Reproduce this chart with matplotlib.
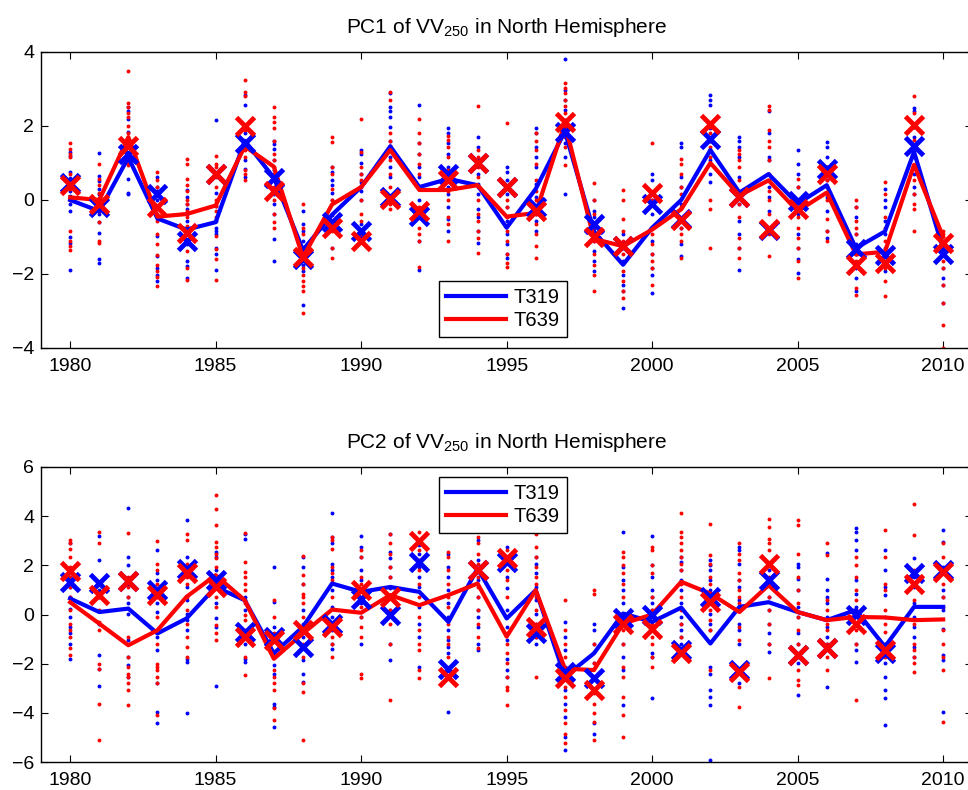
"""Recreate the PC1/PC2 VV250 time series figure (T319 vs T639)."""

import matplotlib
matplotlib.use("Agg")
import matplotlib.pyplot as plt

plt.rcParams["font.family"] = ["Liberation Sans", "DejaVu Sans"]

years = list(range(1980, 2011))

# ---- PC1 ---------------------------------------------------------------
pc1_t319_mean = [0.0, -0.3, 1.15, -0.5, -0.8, -0.6, 1.6, 0.6, -1.35, -0.4, 0.35,
                 1.45, 0.35, 0.57, 0.4, -0.75, 0.3, 1.85, -0.85, -1.75, -0.75,
                 0.0, 1.35, 0.2, 0.7, -0.1, 0.4, -1.3, -0.85, 1.3, -1.33]
pc1_t639_mean = [0.07, 0.0, 1.7, -0.45, -0.38, -0.15, 1.45, 0.9, -1.55, -0.12, 0.35,
                 1.35, 0.27, 0.27, 0.4, -0.45, -0.35, 2.07, -1.05, -1.25, -0.8,
                 -0.25, 1.0, 0.12, 0.53, -0.3, 0.2, -1.47, -1.4, 0.95, -1.0]
pc1_t319_cross = [0.45, -0.2, 1.25, 0.15, -1.1, 0.7, 1.55, 0.6, -1.6, -0.6, -0.85,
                  0.07, -0.42, 0.7, 1.0, 0.35, -0.2, 1.85, -0.65, -1.25, -0.1,
                  -0.52, 1.65, 0.07, -0.82, -0.02, 0.85, -1.33, -1.5, 1.45, -1.47]
pc1_t639_cross = [0.4, -0.1, 1.45, -0.2, -0.9, 0.7, 2.0, 0.25, -1.55, -0.75, -1.1,
                  0.03, -0.3, 0.53, 1.0, 0.35, -0.3, 2.1, -1.0, -1.25, 0.2,
                  -0.55, 2.05, 0.07, -0.78, -0.25, 0.7, -1.75, -1.7, 2.02, -1.15]

pc1_t319_members = [
    [1.3, 1.2, 0.75, 0.6, 0.25, 0.1, -0.1, -0.3, -1.0, -1.15, -1.88],
    [1.27, 0.66, 0.5, 0.3, 0.15, 0.0, -0.38, -0.6, -0.88, -1.6, -1.7],
    [2.5, 2.4, 2.2, 1.85, 1.5, 1.2, 0.57, 0.2, 0.15],
    [0.62, 0.35, 0.25, 0.0, -0.97, -1.52, -1.84, -2.02, -2.2],
    [0.27, 0.07, -0.1, -0.25, -0.38, -0.56, -0.93, -1.2, -1.65, -1.78, -2.1],
    [2.16, 0.2, -0.15, -0.56, -0.75, -0.84, -0.93, -1.3, -1.47, -1.9],
    [2.85, 2.57, 1.8, 1.6, 1.07, 0.85, 0.62],
    [1.6, 1.5, 1.39, 1.07, 0.8, 0.53, 0.15, -0.1, -0.38, -1.06, -1.65],
    [-0.29, -0.65, -0.84, -1.1, -1.47, -1.75, -1.93, -2.84],
    [0.9, 0.75, 0.53, 0.4, 0.2, 0.0, -0.4, -0.75, -1.3],
    [1.35, 1.25, 1.0, 0.7, 0.48, 0.25, 0.0, -0.65, -1.0],
    [2.9, 2.5, 2.4, 2.25, 1.98, 1.6, 1.45, 1.16, 0.9, 0.62],
    [2.57, 1.53, 1.25, 0.9, 0.62, 0.35, 0.0, -0.42, -1.1, -1.88],
    [1.95, 1.8, 1.53, 1.25, 0.9, 0.35, 0.15, -0.2, -0.52, -0.84],
    [1.7, 1.44, 1.07, 0.7, 0.44, 0.16, -0.25, -0.47, -0.84, -1.16],
    [0.9, 0.75, 0.53, 0.16, -0.2, -0.56, -0.93, -1.2, -1.47, -1.56],
    [1.94, 1.8, 1.44, 1.16, 0.9, 0.44, 0.07, -0.38, -0.56, -0.84],
    [3.8, 2.98, 2.7, 2.44, 2.16, 1.8, 1.53, 1.16, 0.16],
    [0.0, -0.29, -0.47, -0.75, -1.1, -1.38, -1.65, -1.93],
    [-0.93, -1.3, -1.65, -2.02, -2.29, -2.47, -2.93],
    [0.7, 0.53, 0.0, -0.38, -0.75, -1.1, -1.47, -1.84, -2.02, -2.52],
    [1.53, 1.44, 0.62, 0.35, -0.1, -0.75, -1.2, -1.52],
    [2.85, 2.7, 2.57, 1.94, 1.6, 1.35, 1.07, 0.7, 0.48],
    [1.7, 1.6, 1.44, 1.16, 0.62, 0.16, -0.1, -0.56, -0.93, -1.29, -1.88],
    [2.4, 1.8, 1.16, 1.07, 0.53, 0.35, 0.07, -0.29, -0.75],
    [1.35, 0.98, 0.7, 0.35, 0.0, -0.38, -0.93, -1.29, -1.6, -1.97],
    [1.57, 1.44, 1.16, 0.9, 0.53, 0.07, -0.29, -0.84, -1.02],
    [-0.2, -0.47, -0.93, -1.2, -1.47, -1.84, -2.1, -2.47],
    [0.3, 0.0, -0.2, -0.56, -0.93, -1.3, -1.65, -1.93],
    [2.48, 2.4, 1.98, 1.7, 1.44, 1.16, 0.7, 0.35, 0.16],
    [-1.1, -1.29, -1.47, -1.84, -2.1, -2.29, -2.79],
]
pc1_t639_members = [
    [1.53, 1.39, 1.25, 1.15, 0.7, 0.45, 0.3, 0.0, -0.84, -1.1, -1.25, -1.34],
    [0.98, 0.57, 0.4, 0.2, 0.05, -0.15, -0.3, -0.6, -1.1, -1.15],
    [3.48, 2.63, 2.5, 2.35, 2.25, 2.0, 1.8, 1.6, 1.45, 1.25, 1.0, 0.95],
    [0.75, 0.53, 0.35, -0.38, -0.56, -0.93, -1.2, -1.5, -1.75, -1.93, -2.07, -2.33],
    [1.1, 0.98, 0.57, 0.4, 0.25, 0.0, -0.1, -0.3, -0.47, -0.7, -1.38, -1.84, -2.15],
    [1.18, 0.98, 0.9, 0.62, 0.35, 0.0, -0.15, -0.3, -0.47, -0.97, -1.33, -1.6, -2.15],
    [3.23, 2.93, 2.8, 1.9, 1.53, 1.35, 1.16, 0.8, 0.7, 0.53],
    [2.5, 2.25, 2.1, 1.94, 1.6, 1.25, 1.07, 0.9, 0.7, 0.35, 0.0, -0.38, -0.6, -0.75],
    [-0.1, -0.75, -0.93, -1.47, -1.84, -2.02, -2.2, -2.33, -2.47, -3.06],
    [1.7, 1.57, 0.9, 0.7, 0.3, 0.0, -0.38, -0.84, -1.3, -1.56],
    [2.2, 1.3, 0.9, 0.7, 0.53, 0.35, 0.0, -0.38, -0.56, -0.93],
    [2.93, 2.7, 1.8, 1.6, 1.45, 1.07, 0.7, 0.35, -0.1, -0.25],
    [2.2, 1.8, 1.53, 1.25, 0.98, 0.7, 0.35, -0.2, -0.75, -0.93, -1.1, -1.8],
    [1.73, 1.62, 1.44, 1.16, 0.8, 0.53, 0.25, 0.0, -0.47, -0.65, -1.1],
    [2.53, 1.35, 1.16, 0.9, 0.62, 0.35, 0.0, -0.38, -0.56, -0.84, -1.02, -1.43],
    [2.07, 0.35, 0.0, -0.2, -0.47, -0.84, -1.1, -1.47, -1.7, -1.8],
    [1.8, 1.6, 1.35, 0.98, 0.53, 0.25, 0.0, -0.38, -0.65, -0.93, -1.25, -1.56],
    [3.16, 3.03, 2.9, 2.7, 2.53, 2.35, 2.16, 1.9, 1.7, 1.44, 0.94],
    [0.45, 0.0, -0.38, -0.75, -1.1, -1.47, -1.75, -2.02, -2.45],
    [0.27, 0.0, -0.52, -0.84, -1.1, -1.47, -1.93, -2.2, -2.47, -2.65],
    [1.53, 0.16, 0.0, -0.93, -1.2, -1.47, -1.65, -1.84, -2.29],
    [1.12, 0.98, 0.7, 0.35, 0.16, -0.2, -0.75, -0.93, -1.1, -1.56],
    [1.98, 1.8, 1.6, 1.44, 1.16, 0.98, 0.0, -0.25, -1.29],
    [1.35, 1.25, 1.07, 0.9, 0.53, 0.25, -0.1, -0.47, -1.02, -1.29, -1.56],
    [2.55, 2.44, 1.9, 1.6, 1.44, 1.07, 0.7, 0.25, 0.0, -0.38, -0.93, -1.52],
    [0.57, 0.35, 0.0, -0.47, -0.75, -1.02, -1.29, -1.65, -2.1],
    [0.9, 0.7, 0.53, 0.35, 0.0, -0.52, -0.84, -1.1],
    [0.0, -0.2, -0.56, -0.75, -0.93, -1.3, -1.47, -1.65, -2.38, -2.56],
    [0.48, 0.16, -0.47, -0.75, -1.1, -1.47, -1.84, -2.2, -2.6],
    [2.8, 2.35, 1.98, 1.62, 1.25, 0.9, 0.53, 0.16, -0.1, -0.25, -0.84],
    [-0.84, -0.93, -1.1, -1.47, -1.65, -1.84, -2.29, -2.79, -3.38, -4.0],
]

# ---- PC2 ---------------------------------------------------------------
pc2_t319_mean = [0.65, 0.1, 0.24, -0.77, -0.16, 1.12, 0.58, -1.58, -0.5, 1.26, 0.92,
                 1.12, 0.92, -0.3, 1.87, -0.16, 0.99, -2.53, -1.58, 0.04, -0.3,
                 0.28, -1.18, 0.31, 0.5, 0.1, -0.23, 0.18, -1.31, 0.31, 0.31]
pc2_t639_mean = [0.5, -0.37, -1.25, -0.64, 0.72, 1.6, 0.58, -1.8, -0.77, 0.2, 0.07,
                 0.79, 0.38, 0.79, 1.26, -0.9, 0.99, -2.2, -2.26, -0.37, 0.0,
                 1.33, 0.85, 0.1, 1.19, 0.1, -0.23, -0.1, -0.12, -0.23, -0.2]
pc2_t319_cross = [1.33, 1.29, 1.35, 1.0, 1.87, 1.4, -0.7, -0.9, -1.31, -0.4, 0.65,
                  -0.03, 2.14, -2.2, 1.8, 2.14, -0.77, -2.33, -2.6, -0.16, -0.03,
                  -1.45, 0.72, -2.26, 1.4, -1.65, -1.38, -0.03, -1.58, 1.7, 1.83]
pc2_t639_cross = [1.76, 0.79, 1.35, 0.79, 1.7, 1.12, -0.9, -1.05, -0.64, -0.5, 0.99,
                  0.72, 2.98, -2.53, 1.83, 2.28, -0.5, -2.6, -3.07, -0.37, -0.57,
                  -1.58, 0.5, -2.33, 2.07, -1.65, -1.38, -0.37, -1.45, 1.26, 1.73]

pc2_t319_members = [
    [2.89, 1.8, 1.53, 1.12, 0.72, 0.24, -0.1, -0.5, -0.77, -1.18, -1.79],
    [3.18, 2.21, 1.26, 0.99, 0.72, -0.37, -1.65, -2.2, -2.91],
    [4.35, 2.34, 2.0, 1.26, 0.72, 0.45, 0.04, -1.04, -1.72, -2.06, -2.53],
    [2.62, 1.67, 1.4, 0.45, 0.1, -0.91, -1.45, -2.8, -3.96, -4.43],
    [3.83, 2.34, 1.8, 1.12, 0.58, 0.04, -0.23, -0.64, -1.79, -1.92, -4.02],
    [2.55, 2.34, 1.8, 1.53, 1.12, 0.45, -0.16, -0.5, -2.91],
    [3.29, 3.09, 0.72, 0.58, 0.18, -0.91, -1.18, -1.79, -1.92],
    [1.94, 0.51, -0.5, -1.04, -1.72, -2.06, -2.4, -3.62, -3.75, -4.57],
    [2.34, 1.94, 1.26, 0.18, -0.37, -0.91, -1.86, -2.4, -2.73],
    [4.13, 3.16, 2.89, 2.07, 1.8, 1.53, 0.99, 0.31, -0.1, -0.64, -1.18, -1.42],
    [3.18, 2.75, 2.34, 1.8, 1.4, 0.99, 0.45, -0.1, -1.18],
    [3.29, 2.55, 2.28, 1.94, 1.53, 1.06, 0.72, 0.18, -1.18, -1.86],
    [2.82, 2.48, 1.94, 1.53, 1.12, 0.31, -0.37, -0.91, -2.13],
    [2.48, 1.94, 1.53, 0.99, 0.45, -0.1, -0.64, -1.04, -1.31, -1.58, -3.96],
    [3.02, 2.21, 1.8, 1.4, 0.72, 0.18, -0.1, -0.5, -1.18, -1.45],
    [2.75, 1.53, 1.06, 0.18, -0.5, -1.04, -1.79, -2.26, -2.53],
    [2.34, 2.07, 1.67, 1.12, 0.58, 0.04, -0.37, -0.91, -1.18],
    [-0.3, -0.91, -1.45, -2.13, -3.08, -3.62, -4.16, -4.97, -5.51],
    [-0.37, -0.64, -1.18, -1.99, -2.53, -3.08, -4.43, -4.84],
    [3.36, 1.94, 1.4, 0.99, 0.45, -0.37, -1.18, -1.72, -2.26, -3.69],
    [3.18, 2.0, 1.53, 0.99, 0.72, 0.45, 0.18, -0.5, -1.58, -1.72, -3.41],
    [2.34, 2.14, 1.8, 1.4, 0.99, 0.45, -0.1, -0.37, -0.64, -0.91, -1.18],
    [2.21, 2.0, 1.8, 1.4, 0.99, 0.45, 0.04, -0.37, -0.64, -2.13, -2.4, -3.08,
     -3.35, -3.69, -5.92],
    [2.75, 2.62, 2.07, 1.4, 1.12, 0.58, 0.18, -0.37, -0.64, -1.18, -2.8],
    [1.8, 1.26, 0.72, 0.18, -0.37, -0.77, -1.18, -1.52],
    [2.07, 1.94, 1.46, 0.99, 0.31, -0.1, -0.77, -1.18, -1.99, -3.28],
    [2.51, 1.46, 0.99, 0.72, 0.45, -0.1, -0.5, -0.91, -1.18, -2.94],
    [3.5, 3.36, 3.02, 2.62, 1.4, 0.85, 0.31, -0.37, -1.18, -1.45, -1.92],
    [2.64, 1.8, 1.12, 0.79, -0.1, -1.18, -1.99, -2.53, -3.08, -3.41, -4.5],
    [2.28, 1.53, 1.12, 0.45, -0.1, -0.5, -0.91, -1.31, -1.72],
    [3.43, 2.95, 1.94, 0.99, 0.72, 0.18, -0.57, -1.65, -1.86, -3.96],
]
pc2_t639_members = [
    [3.02, 2.89, 2.68, 2.34, 1.94, 1.53, 1.12, 0.72, 0.18, -0.37, -0.64, -0.91,
     -1.38, -1.65],
    [3.36, 2.89, 1.26, 0.72, 0.18, -0.3, -0.64, -2.0, -2.2, -3.62, -5.1],
    [3.32, 1.53, 1.12, 0.72, -0.91, -1.72, -2.13, -2.4, -2.53, -2.8, -3.08, -3.69],
    [2.99, 2.07, 1.8, 1.26, 0.72, -0.1, -1.18, -2.0, -2.13, -2.26, -2.53, -2.8,
     -4.09],
    [3.29, 3.02, 2.07, 1.53, 1.26, 0.72, 0.18, -0.37, -0.91, -1.31, -1.72],
    [4.85, 4.31, 3.63, 2.95, 2.75, 2.48, 2.28, 1.94, 1.26, 0.72, 0.31, -0.43,
     -0.77, -1.04],
    [3.32, 2.14, 1.73, 1.53, 1.26, 0.99, 0.45, -0.03, -0.23, -0.64, -1.72, -2.47],
    [0.58, -0.1, -0.77, -1.58, -2.26, -2.53, -2.8, -3.08, -3.82, -4.3],
    [2.37, 1.6, 1.26, 0.85, 0.72, 0.45, -0.1, -0.64, -1.18, -1.72, -2.8, -3.14,
     -5.1],
    [3.16, 3.02, 2.68, 1.94, 1.67, 1.4, 0.72, -0.37, -0.91, -1.18, -1.72],
    [2.62, 2.34, 1.53, 1.26, 0.72, 0.31, -0.1, -0.5, -0.91, -2.4, -2.6],
    [3.27, 2.89, 2.48, 1.94, 1.53, 1.12, 0.72, 0.18, -0.37, -1.18, -3.48],
    [3.36, 2.62, 2.21, 1.8, 1.26, 0.72, -0.1, -0.64, -1.18, -1.45, -2.26, -2.6],
    [2.55, 2.34, 1.8, 1.26, 0.72, 0.31, -0.37, -0.91, -1.18, -1.72],
    [3.16, 2.89, 2.48, 2.07, 1.53, 1.12, 0.72, 0.18, -0.37, -0.91, -1.38],
    [2.62, 1.8, 1.4, 0.72, -0.1, -0.77, -1.18, -1.58, -1.99, -2.53, -2.94, -3.08,
     -3.69],
    [3.29, 2.75, 2.34, 1.94, 1.53, 1.26, 0.72, 0.18, -0.37, -0.91, -2.53],
    [0.58, -0.64, -1.18, -1.72, -2.53, -2.94, -3.35, -3.89, -4.43, -4.84, -5.24],
    [0.99, 0.85, -1.18, -1.99, -2.53, -3.21, -3.62, -4.02, -4.36, -5.1],
    [2.55, 2.34, 2.0, 1.67, 1.26, 0.72, -0.1, -0.64, -1.18, -2.13, -2.53, -3.35,
     -4.09, -4.97],
    [2.75, 2.62, 2.0, 1.67, 0.72, 0.18, -0.37, -0.91, -1.18, -1.72, -2.13],
    [4.11, 3.36, 3.16, 2.89, 2.62, 2.34, 2.07, 1.8, 1.26, 0.72, 0.18, -0.37, -0.91],
    [3.7, 2.41, 2.07, 1.53, 1.26, 0.72, 0.18, -0.23, -0.64, -2.26],
    [2.91, 2.48, 2.21, 1.67, 1.4, 0.99, 0.72, 0.45, 0.18, -0.5, -1.04, -2.94, -3.75],
    [3.9, 3.56, 3.09, 2.89, 2.62, 2.07, 1.53, 0.72, 0.18, -0.37, -1.18, -2.6],
    [3.83, 3.63, 2.48, 1.53, 0.99, 0.45, -0.1, -0.64, -1.18, -1.72, -2.26, -2.67,
     -2.87],
    [2.89, 2.41, 0.58, 0.18, -0.37, -0.64, -1.18, -1.72, -2.26],
    [2.34, 2.0, 1.53, 0.99, 0.58, 0.18, -0.37, -0.64, -1.18, -3.48],
    [3.43, 2.34, 1.26, 0.99, 0.18, -0.37, -0.7, -1.18, -1.45, -1.72],
    [4.51, 3.23, 1.8, 1.26, 0.58, -0.37, -1.18, -1.45, -1.72, -1.99, -2.33],
    [2.89, 2.34, 1.8, 1.26, 0.72, 0.31, -0.64, -1.18, -1.72, -2.26, -4.36],
]

BLUE = "#0000ff"
RED = "#ff0000"


def draw_panel(ax, members_b, members_r, mean_b, mean_r, cross_b, cross_r,
               title, ylim):
    for yr, vals in zip(years, members_b):
        ax.plot([yr] * len(vals), vals, "o", color=BLUE, ms=2.8, mew=0)
    for yr, vals in zip(years, members_r):
        ax.plot([yr] * len(vals), vals, "o", color=RED, ms=2.8, mew=0)
    ax.plot(years, mean_b, "-", color=BLUE, lw=3, label="T319")
    ax.plot(years, mean_r, "-", color=RED, lw=3, label="T639")
    ax.plot(years, cross_b, "x", color=BLUE, ms=13, mew=3.5)
    ax.plot(years, cross_r, "x", color=RED, ms=13, mew=3.5)

    ax.set_xlim(1979, 2011)
    ax.set_ylim(*ylim)
    ax.set_xticks(range(1980, 2011, 5))
    ax.set_yticks(range(ylim[0], ylim[1] + 1, 2))
    ax.tick_params(direction="in", top=True, right=True, labelsize=14,
                   length=5, width=0.8, pad=5)
    ax.tick_params(axis="x", pad=7)
    ax.set_yticklabels([str(v).replace("-", "\u2212") for v in
                        range(ylim[0], ylim[1] + 1, 2)])
    for s in ax.spines.values():
        s.set_linewidth(1.0)
    ax.set_title(title, fontsize=15, pad=14)


fig = plt.figure(figsize=(9.68, 7.9), dpi=100)
ax1 = fig.add_axes([0.0424, 0.5595, 0.962, 0.3747])
ax2 = fig.add_axes([0.0424, 0.0354, 0.962, 0.3735])

draw_panel(ax1, pc1_t319_members, pc1_t639_members, pc1_t319_mean,
           pc1_t639_mean, pc1_t319_cross, pc1_t639_cross,
           r"PC1 of VV$_\mathregular{250}$ in North Hemisphere", (-4, 4))
draw_panel(ax2, pc2_t319_members, pc2_t639_members, pc2_t319_mean,
           pc2_t639_mean, pc2_t319_cross, pc2_t639_cross,
           r"PC2 of VV$_\mathregular{250}$ in North Hemisphere", (-6, 6))

for ax, anchor in ((ax1, (0.4535, 0.6443)), (ax2, (0.4535, 0.3962))):
    leg = ax.legend(loc="upper left", bbox_to_anchor=anchor,
                    bbox_transform=fig.transFigure, fontsize=14.5,
                    fancybox=False, framealpha=1, edgecolor="black",
                    handlelength=3.0, borderpad=0.35, labelspacing=0.2,
                    handletextpad=0.35, borderaxespad=0)
    leg.get_frame().set_linewidth(1.0)

fig.savefig("out.png", dpi=100)
